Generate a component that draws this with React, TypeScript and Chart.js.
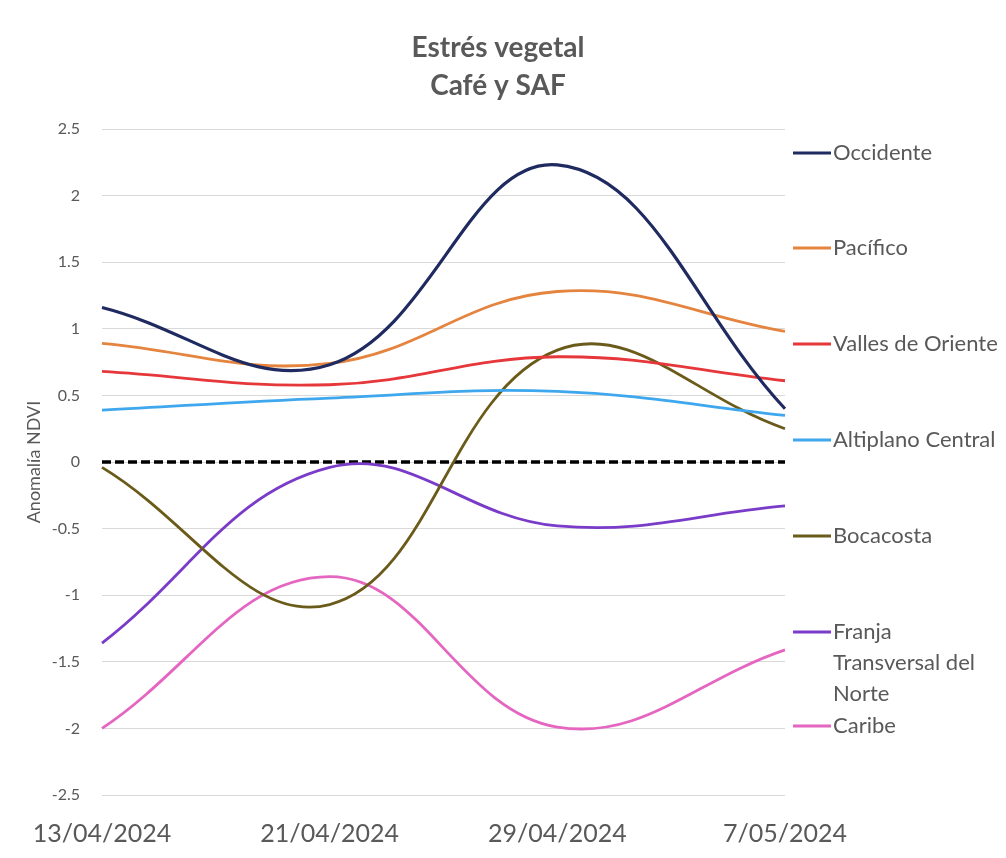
import React, { useEffect, useRef } from "react";
import { Chart, registerables } from "chart.js";

Chart.register(...registerables);

const categories = ["13/04/2024", "21/04/2024", "29/04/2024", "7/05/2024"];

const occidente = [1.16, 0.73, 2.23, 0.4];
const pacifico = [0.89, 0.74, 1.28, 0.98];
const vallesOriente = [0.68, 0.58, 0.79, 0.61];
const altiplanoCentral = [0.39, 0.48, 0.53, 0.35];
const bocacosta = [-0.04, -1.07, 0.84, 0.25];
const franjaTransversal = [-1.36, -0.04, -0.48, -0.33];
const caribe = [-2.0, -0.86, -1.99, -1.41];
const zeroLine = [0, 0, 0, 0];

const seriesNames = [
  "Occidente",
  "Pacífico",
  "Valles de Oriente",
  "Altiplano Central",
  "Bocacosta",
  "Franja Transversal del Norte",
  "Caribe",
];
const legendLines = [
  ["Occidente"],
  ["Pacífico"],
  ["Valles de Oriente"],
  ["Altiplano Central"],
  ["Bocacosta"],
  ["Franja", "Transversal del", "Norte"],
  ["Caribe"],
];
const seriesColors = ["#1f2a60", "#e5843f", "#e6373a", "#3fa7ee", "#6b5b1a", "#7a3cc8", "#e466c0"];
const seriesValues = [occidente, pacifico, vallesOriente, altiplanoCentral, bocacosta, franjaTransversal, caribe];

const titleLines = ["Estrés vegetal", "Café y SAF"];
const yAxisTitle = "Anomalía NDVI";
const yMin = -2.5;
const yMax = 2.5;
const yStep = 0.5;

const FONT = "Lato, 'Open Sans', sans-serif";
const TEXT = "#595959";

const W = 990;
const H = 842;
const AREA = { left: 94, right: 777, top: 121, bottom: 787 };

const legendY = [145, 240, 336, 432, 528, 624, 718];

const decorPlugin = {
  id: "decor",
  afterDraw(chart: any) {
    const ctx = chart.ctx as CanvasRenderingContext2D;
    ctx.save();
    ctx.fillStyle = TEXT;
    ctx.font = `bold 28px ${FONT}`;
    ctx.textAlign = "center";
    ctx.textBaseline = "middle";
    titleLines.forEach((t, i) => ctx.fillText(t, 490, 40 + i * 38));
    ctx.font = `22px ${FONT}`;
    ctx.textAlign = "left";
    legendLines.forEach((lines, i) => {
      const y = legendY[i];
      ctx.strokeStyle = seriesColors[i];
      ctx.lineWidth = 3;
      ctx.beginPath();
      ctx.moveTo(785, y);
      ctx.lineTo(823, y);
      ctx.stroke();
      ctx.fillStyle = TEXT;
      lines.forEach((l, j) => ctx.fillText(l, 825, y + j * 31));
    });
    ctx.restore();
  },
};

export default function App() {
  const ref = useRef<HTMLCanvasElement | null>(null);

  useEffect(() => {
    if (!ref.current) return;
    const datasets: any[] = seriesValues.map((vals, i) => ({
      label: seriesNames[i],
      data: vals,
      borderColor: seriesColors[i],
      backgroundColor: seriesColors[i],
      borderWidth: i === 0 ? 3.2 : 2.8,
      pointRadius: 0,
      tension: 0.4,
      fill: false,
    }));
    datasets.push({
      label: "cero",
      data: zeroLine,
      borderColor: "#000000",
      borderWidth: 3.5,
      borderDash: [9, 4],
      pointRadius: 0,
      tension: 0,
      fill: false,
    });

    const chart = new Chart(ref.current, {
      type: "line",
      data: { labels: categories, datasets },
      options: {
        responsive: false,
        animation: false,
        devicePixelRatio: 1,
        layout: { padding: { top: AREA.top, right: W - AREA.right, bottom: 0, left: 0 } },
        plugins: {
          legend: { display: false },
          title: { display: false },
          tooltip: { enabled: false },
        },
        scales: {
          x: {
            offset: false,
            grid: { display: false, drawTicks: false },
            border: { display: false },
            ticks: {
              color: TEXT,
              font: { family: FONT, size: 25 },
              padding: 24,
              maxRotation: 0,
              autoSkip: false,
            },
            afterFit: (s: any) => {
              s.height = H - AREA.bottom;
            },
          },
          y: {
            min: yMin,
            max: yMax,
            grid: { color: "#d9d9d9", lineWidth: 1, drawTicks: false },
            border: { display: false },
            ticks: {
              stepSize: yStep,
              color: TEXT,
              font: { family: FONT, size: 16 },
              padding: 22,
              callback: (v: any) => String(v),
            },
            title: {
              display: true,
              text: yAxisTitle,
              color: TEXT,
              font: { family: FONT, size: 18 },
              padding: { top: 15, bottom: 0 },
            },
            afterFit: (s: any) => {
              s.width = AREA.left;
            },
          },
        },
      },
      plugins: [decorPlugin],
    });
    return () => chart.destroy();
  }, []);

  return (
    <div
      style={{
        width: W,
        height: H,
        borderTop: "1px solid #d9d9d9",
        borderLeft: "1px solid #d9d9d9",
        marginTop: -1,
        marginLeft: -1,
        background: "#ffffff",
      }}
    >
      <canvas ref={ref} width={W} height={H} style={{ display: "block", width: W, height: H }} />
    </div>
  );
}
